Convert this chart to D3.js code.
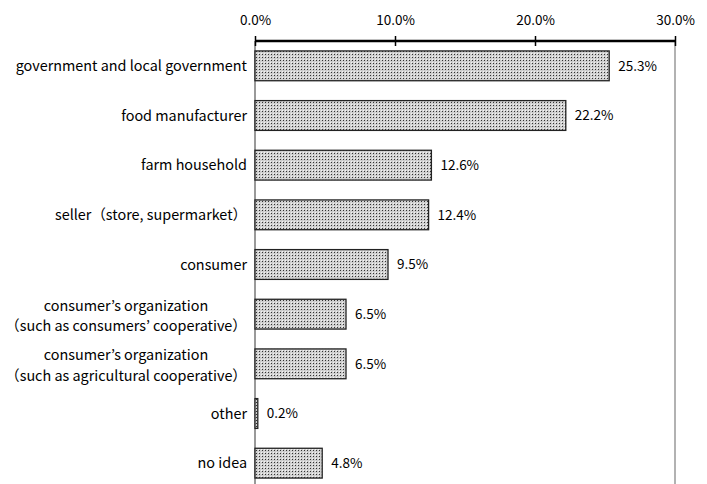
<!DOCTYPE html>
<html>
<head>
<meta charset="utf-8">
<script src="https://cdn.jsdelivr.net/npm/d3@7"></script>
<style>
  body { margin: 0; background: #fff; }
  text { font-family: "Noto Sans CJK JP", "Noto Sans", sans-serif; fill: #000; }
</style>
</head>
<body>
<div id="chart"></div>
<script>
// categories, top to bottom
var categories = [
    "government and local government",
    "food manufacturer",
    "farm household",
    "seller（store, supermarket）",
    "consumer",
    "consumer’s organization|（such as consumers’ cooperative）",
    "consumer’s organization|（such as agricultural cooperative）",
    "other",
    "no idea"
];

// percent values
var values = [25.3, 22.2, 12.6, 12.4, 9.5, 6.5, 6.5, 0.2, 4.8];

var tickValues = [0, 10, 20, 30];

var svgWidth = 707;
var svgHeight = 484;

var margin = { top: 41, right: 32, bottom: -4, left: 255 };
var chartWidth = svgWidth - margin.left - margin.right;
var chartHeight = svgHeight - margin.top - margin.bottom;

var svg = d3.select("#chart")
    .append("svg")
    .attr("width", svgWidth)
    .attr("height", svgHeight);

// dotted fill like the original
var defs = svg.append("defs");
var pat = defs.append("pattern")
    .attr("id", "dots")
    .attr("patternUnits", "userSpaceOnUse")
    .attr("width", 3)
    .attr("height", 3);
pat.append("rect").attr("width", 3).attr("height", 3).attr("fill", "#cfcfcf");
pat.append("rect").attr("x", 1).attr("y", 1).attr("width", 1).attr("height", 1).attr("fill", "#333");
pat.append("rect").attr("x", 0).attr("y", 0).attr("width", 1).attr("height", 1).attr("fill", "#f4f4f4");

var chartGroup = svg.append("g")
    .attr("transform", `translate(${margin.left}, ${margin.top})`);

var xScale = d3.scaleLinear()
    .domain([0, 30])
    .range([0, chartWidth]);

var yScale = d3.scaleBand()
    .domain(categories)
    .range([0, chartHeight])
    .paddingInner(0.4)
    .paddingOuter(0.2);

// vertical frame lines
chartGroup.append("line")
    .attr("x1", xScale(0)).attr("x2", xScale(0))
    .attr("y1", 0).attr("y2", chartHeight + 10)
    .attr("stroke", "#777").attr("stroke-width", 1.5);
chartGroup.append("line")
    .attr("x1", xScale(30)).attr("x2", xScale(30))
    .attr("y1", 0).attr("y2", chartHeight + 10)
    .attr("stroke", "#999").attr("stroke-width", 1.5);

// bars
chartGroup.selectAll(".bar")
    .data(values)
    .enter()
    .append("rect")
    .attr("class", "bar")
    .attr("x", xScale(0))
    .attr("y", (d, i) => yScale(categories[i]))
    .attr("width", d => xScale(d) - xScale(0))
    .attr("height", yScale.bandwidth())
    .attr("fill", "url(#dots)")
    .attr("stroke", "#222")
    .attr("stroke-width", 1.3);

// value labels
chartGroup.selectAll(".val")
    .data(values)
    .enter()
    .append("text")
    .attr("class", "val")
    .attr("x", d => xScale(d) + 9)
    .attr("y", (d, i) => yScale(categories[i]) + yScale.bandwidth() / 2)
    .attr("dy", "0.35em")
    .attr("font-size", "13.5px")
    .text(d => d.toFixed(1) + "%");

// category labels (may be two lines)
var labels = chartGroup.selectAll(".cat")
    .data(categories)
    .enter()
    .append("text")
    .attr("class", "cat")
    .attr("font-size", "14.4px")
    .attr("text-anchor", "middle")
    .attr("y", d => yScale(d) + yScale.bandwidth() / 2);

labels.each(function (d) {
    var lines = d.split("|");
    var t = d3.select(this);
    if (lines.length === 1) {
        t.attr("text-anchor", "end")
            .append("tspan")
            .attr("x", -8)
            .attr("dy", "0.35em")
            .text(lines[0]);
    } else {
        lines.forEach(function (line, j) {
            t.append("tspan")
                .attr("x", -129)
                .attr("dy", j === 0 ? "-0.25em" : "1.45em")
                .text(line);
        });
    }
});

// top axis
var topAxis = d3.axisTop(xScale)
    .tickValues(tickValues)
    .tickSize(5)
    .tickFormat(d => d.toFixed(1) + "%");

var axisG = chartGroup.append("g").call(topAxis);
axisG.select(".domain").attr("stroke", "#000").attr("stroke-width", 2.5).attr("d", `M0,0H${chartWidth}`);
axisG.selectAll(".tick line").attr("y1", 5).attr("y2", -5).attr("stroke", "#000").attr("stroke-width", 1.5);
axisG.selectAll(".tick text")
    .attr("y", -16)
    .attr("font-size", "13.5px")
    .attr("font-family", "\"Noto Sans CJK JP\", sans-serif")
    .attr("fill", "#000");
</script>
</body>
</html>
